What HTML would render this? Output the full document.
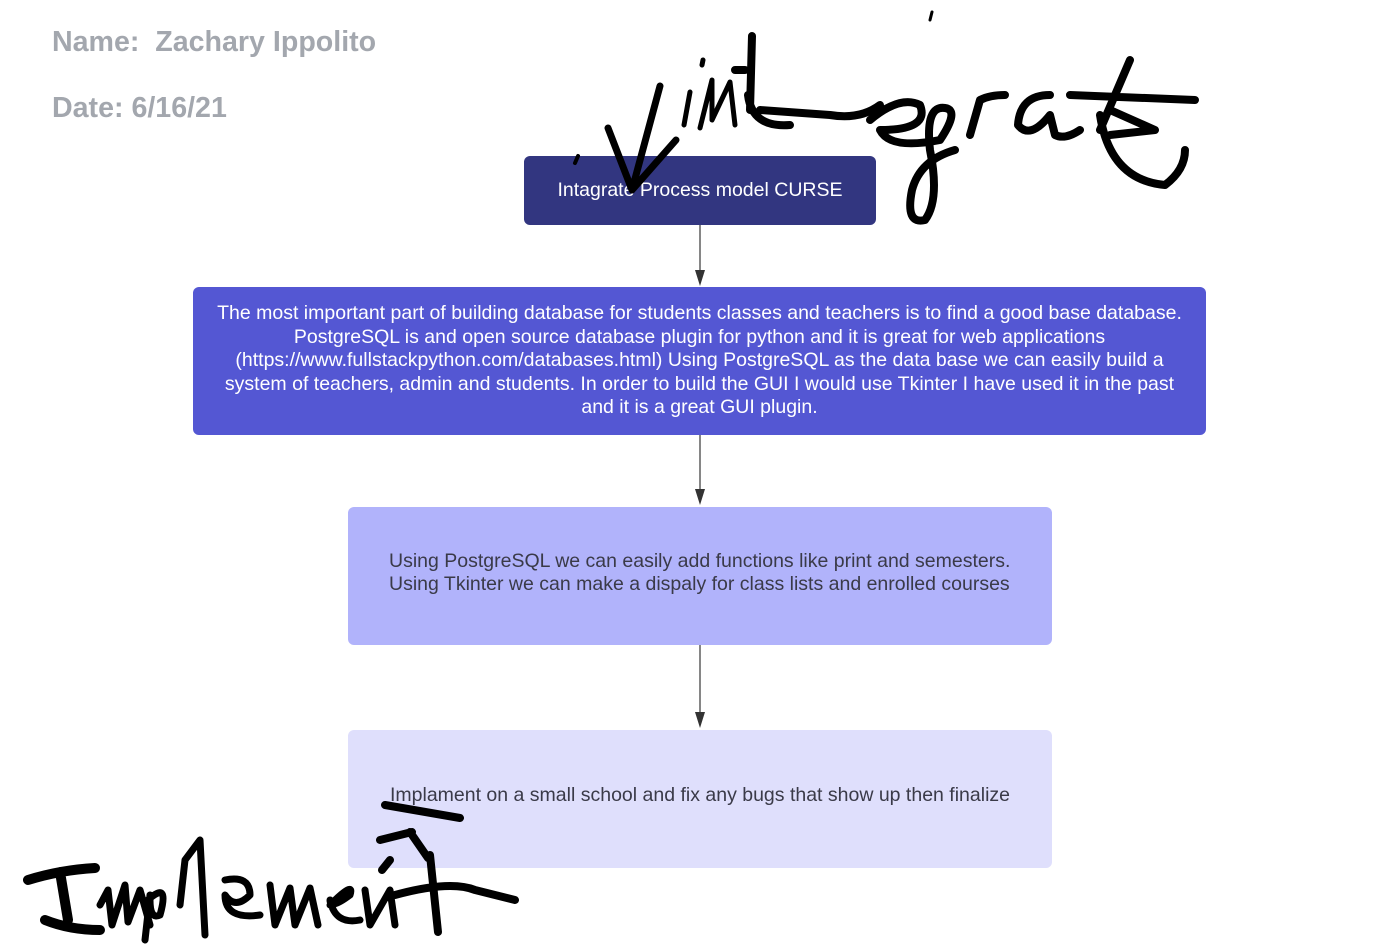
<!DOCTYPE html>
<html><head><meta charset="utf-8"><style>
body{margin:0;width:1385px;height:952px;background:#fff;position:relative;overflow:hidden;font-family:"Liberation Sans",sans-serif}
.h{position:absolute;left:52px;color:#a3a7ae;font-weight:bold;font-size:28.6px}
.b{position:absolute;border-radius:6px;display:flex;align-items:center;justify-content:center;text-align:center;font-size:19.5px;line-height:23.5px;box-sizing:border-box}
</style></head><body>
<div class="h" style="top:26px">Name:&nbsp; Zachary Ippolito</div>
<div class="h" style="top:92px">Date: 6/16/21</div>
<div class="b" style="left:524px;top:156px;width:352px;height:69px;background:#323680;color:#fff">Intagrate Process model CURSE</div>
<div class="b" style="left:193px;top:287px;width:1013px;height:148px;background:#5457d3;color:#fff;padding:0 20px">The most important part of building database for students classes and teachers is to find a good base database. PostgreSQL is and open source database plugin for python and it is great for web applications (https://www.fullstackpython.com/databases.html) Using PostgreSQL as the data base we can easily build a system of teachers, admin and students. In order to build the GUI I would use Tkinter I have used it in the past and it is a great GUI plugin.</div>
<div class="b" style="left:348px;top:507px;width:704px;height:138px;background:#b1b3fb;color:#3a3a48;text-align:left;justify-content:flex-start;padding:0 0 6px 41px">Using PostgreSQL we can easily add functions like print and semesters.<br>Using Tkinter we can make a dispaly for class lists and enrolled courses</div>
<div class="b" style="left:348px;top:730px;width:704px;height:138px;background:#dfdffc;color:#3a3a48;padding-bottom:6px">Implament on a small school and fix any bugs that show up then finalize</div>
<svg width="1385" height="952" style="position:absolute;left:0;top:0">
<g stroke="#444" stroke-width="1.3"><line x1="700" y1="225" x2="700" y2="274"/><line x1="700" y1="435" x2="700" y2="492"/><line x1="700" y1="645" x2="700" y2="715"/></g>
<g fill="#333"><path d="M695 270h10l-5 16z"/><path d="M695 489h10l-5 16z"/><path d="M695 712h10l-5 16z"/></g>
<g fill="none" stroke="#000" stroke-linecap="round" stroke-linejoin="round">
<path d="M608 128 L632 190 L660 86 M632 190 L676 140" stroke-width="7"/>
<path d="M575 163 l3 -7" stroke-width="4"/>
<path d="M684 125 L690 92 M703 60 l-1 5 M700 128 L712 80 L712 120 L730 82 L735 125" stroke-width="5"/>
<path d="M750 110 L752 36 M735 70 L745 70 M748 95 Q752 128 790 125 M760 110 L830 115 Q860 120 880 105" stroke-width="8"/>
<path d="M870 120 Q900 95 920 105 Q930 130 880 130 Q890 150 940 140 Q960 110 945 108 Q925 105 930 150 Q940 200 925 220 Q905 225 912 190 Q920 160 955 150 M970 135 L980 100 Q990 95 1005 95 M1050 95 Q1020 95 1018 125 Q1030 140 1050 115 L1055 135 Q1065 140 1080 130 M1100 130 L1130 60 M1070 95 L1195 100 M1100 115 Q1110 180 1165 185 Q1185 170 1185 150 M1110 110 L1155 130 L1110 135" stroke-width="8"/>
<path d="M930 20 l2 -8" stroke-width="3"/>
<path d="M28 880 Q60 870 95 868 M60 872 L68 920 M45 920 Q70 930 100 930" stroke-width="10"/>
<path d="M100 905 L108 890 L112 925 L125 885 L128 922 L140 890 L150 925 M150 895 L145 940 M148 900 Q170 880 160 915 Q150 920 150 900 M180 905 L185 860 L200 840 L205 935 M225 880 Q250 875 250 895 Q235 910 225 895 Q225 920 260 915 M270 885 L275 925 L290 888 L295 925 L310 888 L318 925 M330 905 Q355 880 350 895 Q330 910 330 900 Q335 925 360 920 M365 890 L370 925 L390 890 L395 925" stroke-width="7"/>
<path d="M385 805 L460 818 M380 840 L412 832 M410 832 L428 858 M390 860 L382 870 M430 855 L438 932 M395 895 Q450 880 475 890 Q495 895 515 900" stroke-width="8"/>
</g></svg>
</body></html>
